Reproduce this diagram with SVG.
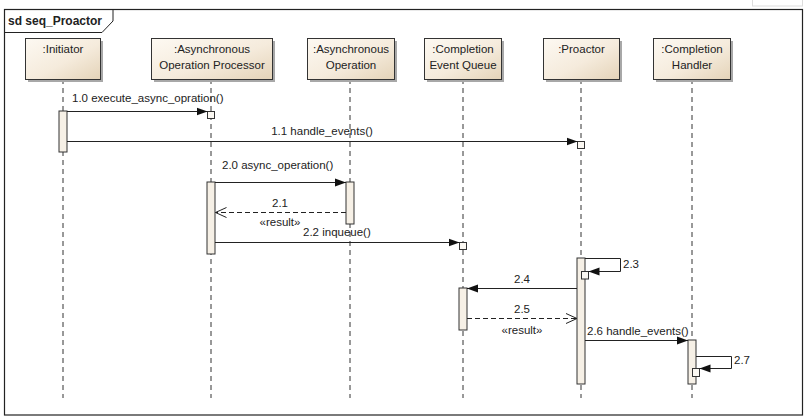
<svg xmlns="http://www.w3.org/2000/svg" width="810" height="418" viewBox="0 0 810 418">
<defs>
<linearGradient id="hg" x1="0" y1="0" x2="1" y2="1">
<stop offset="0" stop-color="#fdf9f2"/>
<stop offset="0.55" stop-color="#f5ebdc"/>
<stop offset="1" stop-color="#e4d3b8"/>
</linearGradient>
<marker id="fa" markerUnits="userSpaceOnUse" markerWidth="12" markerHeight="10" refX="11" refY="5" orient="auto">
<path d="M0,1 L11,5 L0,9 Z" fill="#111"/>
</marker>
<marker id="oa" markerUnits="userSpaceOnUse" markerWidth="12" markerHeight="12" refX="11" refY="6" orient="auto">
<path d="M0,1 L11,6 L0,11" fill="none" stroke="#222" stroke-width="1"/>
</marker>
</defs>
<style>
text{font-family:"Liberation Sans",Arial,sans-serif;font-size:11.5px;fill:#222}
.hd{fill:url(#hg);stroke:#333;stroke-width:1}
.sh{fill:#a8a8a8}
.ll{stroke:#333;stroke-width:1;stroke-dasharray:5,4;fill:none}
.act{fill:#f6f0e6;stroke:#333;stroke-width:1}
.sb{fill:#fbf8f2;stroke:#333;stroke-width:1}
.msg{stroke:#222;stroke-width:1;fill:none}
.ret{stroke:#222;stroke-width:1;fill:none;stroke-dasharray:5,3}
.c{text-anchor:middle}
</style>
<rect width="810" height="418" fill="#ffffff"/>
<rect x="752.5" y="-1" width="50" height="7" fill="none" stroke="#dddddd"/>
<g id="frame">
<rect x="4.5" y="9.5" width="798" height="405.5" fill="none" stroke="#222" stroke-width="1.2"/>
<path d="M4.5,32.5 H102 L113,21 V9.5" fill="none" stroke="#222" stroke-width="1"/>
<text x="8" y="25" style="font-weight:bold;font-size:12px">sd seq_Proactor</text>
</g>
<g id="lifelines">
<line class="ll" x1="63" y1="79" x2="63" y2="398"/>
<line class="ll" x1="211" y1="79" x2="211" y2="398"/>
<line class="ll" x1="350" y1="79" x2="350" y2="398"/>
<line class="ll" x1="463" y1="79" x2="463" y2="398"/>
<line class="ll" x1="581" y1="79" x2="581" y2="398"/>
<line class="ll" x1="692" y1="79" x2="692" y2="398"/>
</g>
<g id="initiator">
<rect class="sh" x="28" y="41" width="75" height="41"/>
<rect class="hd" x="25.5" y="38.5" width="75" height="41"/>
<text class="c" x="63" y="53">:Initiator</text>
<rect class="act" x="59" y="111" width="8" height="41"/>
</g>
<g id="processor">
<rect class="sh" x="154" y="41" width="121" height="41"/>
<rect class="hd" x="151.5" y="38.5" width="121" height="41"/>
<text class="c" x="212" y="53">:Asynchronous</text>
<text class="c" x="212" y="69">Operation Processor</text>
<rect class="act" x="207" y="182" width="8" height="72"/>
<rect class="sb" x="207.5" y="111.5" width="7" height="7"/>
</g>
<g id="operation">
<rect class="sh" x="310" y="41" width="87" height="41"/>
<rect class="hd" x="307.5" y="38.5" width="87" height="41"/>
<text class="c" x="351" y="53">:Asynchronous</text>
<text class="c" x="351" y="69">Operation</text>
<rect class="act" x="346" y="182" width="8" height="42"/>
</g>
<g id="queue">
<rect class="sh" x="427" y="41" width="77" height="41"/>
<rect class="hd" x="424.5" y="38.5" width="77" height="41"/>
<text class="c" x="463" y="53">:Completion</text>
<text class="c" x="463" y="69">Event Queue</text>
<rect class="sb" x="459.5" y="242.5" width="7" height="7"/>
<rect class="act" x="459" y="288" width="8" height="42"/>
</g>
<g id="proactor">
<rect class="sh" x="546" y="41" width="76" height="41"/>
<rect class="hd" x="543.5" y="38.5" width="76" height="41"/>
<text class="c" x="581.5" y="53">:Proactor</text>
<rect class="sb" x="577.5" y="141.5" width="7" height="7"/>
<rect class="act" x="577" y="258" width="8" height="126"/>
<rect class="sb" x="581.5" y="271.5" width="7" height="7.5"/>
</g>
<g id="handler">
<rect class="sh" x="656" y="41" width="77" height="41"/>
<rect class="hd" x="653.5" y="38.5" width="77" height="41"/>
<text class="c" x="692" y="53">:Completion</text>
<text class="c" x="692" y="69">Handler</text>
<rect class="act" x="688" y="340" width="8" height="44"/>
<rect class="sb" x="692.5" y="368.5" width="7" height="8"/>
</g>
<g id="connectors">
<line class="msg" x1="67" y1="111.5" x2="207.5" y2="111.5" marker-end="url(#fa)"/>
<text x="72" y="102">1.0 execute_async_opration()</text>
<line class="msg" x1="67" y1="141.5" x2="577.5" y2="141.5" marker-end="url(#fa)"/>
<text class="c" x="322" y="135">1.1 handle_events()</text>
<line class="msg" x1="215" y1="182.5" x2="346" y2="182.5" marker-end="url(#fa)"/>
<text x="222" y="169">2.0 async_operation()</text>
<line class="ret" x1="346" y1="212.5" x2="215.5" y2="212.5" marker-end="url(#oa)"/>
<text class="c" x="280" y="207">2.1</text>
<text class="c" x="280" y="226">«result»</text>
<line class="msg" x1="215" y1="242.5" x2="459.5" y2="242.5" marker-end="url(#fa)"/>
<text x="303" y="236">2.2 inqueue()</text>
<path class="msg" d="M585,258.5 H620.5 V271.5 H588.5" marker-end="url(#fa)"/>
<text x="623" y="268">2.3</text>
<line class="msg" x1="577" y1="288.5" x2="467" y2="288.5" marker-end="url(#fa)"/>
<text class="c" x="522" y="283">2.4</text>
<line class="ret" x1="467" y1="318.5" x2="577" y2="318.5" marker-end="url(#oa)"/>
<text class="c" x="522" y="313">2.5</text>
<text class="c" x="522" y="334">«result»</text>
<line class="msg" x1="585" y1="340.5" x2="688" y2="340.5" marker-end="url(#fa)"/>
<text x="587" y="335">2.6 handle_events()</text>
<path class="msg" d="M696,356.5 H731.5 V368.5 H699.5" marker-end="url(#fa)"/>
<text x="734" y="364">2.7</text>
</g>
</svg>
